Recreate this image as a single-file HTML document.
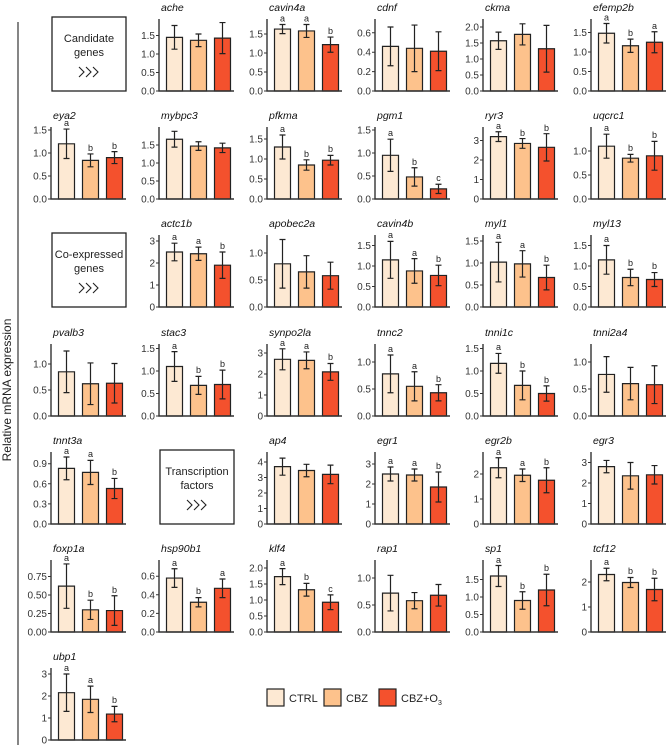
<!DOCTYPE html>
<html><head><meta charset="utf-8"><style>
body{margin:0;background:#fff}
svg{display:block;font-family:"Liberation Sans",sans-serif}
.n{font-style:italic;font-size:10.5px;fill:#111}
.tk text{font-size:10px;fill:#333;text-anchor:end}
.tk path{stroke:#333;stroke-width:1}
.ax{fill:none;stroke:#333;stroke-width:1.4}
.s rect,.s path{vector-effect:non-scaling-stroke;stroke:#222;stroke-width:1.2}
.s path{fill:none}
.s rect{width:16px}
.s rect.c1{x:6px}.s rect.c2{x:30px}.s rect.c3{x:54px}
.c1{fill:#fde9d3}.c2{fill:#fdc28c}.c3{fill:#f4512d}
.l text{font-size:9px;fill:#222;text-anchor:middle}
.bx{fill:#fff;stroke:#222;stroke-width:1.3}
.bt{font-size:11px;fill:#222;text-anchor:middle}
.cv{fill:none;stroke:#222;stroke-width:1.1}
</style></head><body>
<svg width="669" height="745" viewBox="0 0 669 745">
<line x1="18" y1="22" x2="18" y2="745" stroke="#444" stroke-width="1.3"/>
<text transform="translate(11,390) rotate(-90)" font-size="12" text-anchor="middle" fill="#222">Relative mRNA expression</text>

<!-- boxes -->
<rect class="bx" x="52" y="17" width="74" height="74"/>
<text class="bt" x="89" y="42">Candidate</text><text class="bt" x="89" y="56">genes</text>
<path class="cv" d="M79 67l5 5-5 5M86 67l5 5-5 5M93 67l5 5-5 5"/>
<rect class="bx" x="52" y="233" width="74" height="74"/>
<text class="bt" x="89" y="258">Co-expressed</text><text class="bt" x="89" y="272">genes</text>
<path class="cv" d="M79 283l5 5-5 5M86 283l5 5-5 5M93 283l5 5-5 5"/>
<rect class="bx" x="160" y="450" width="74" height="74"/>
<text class="bt" x="197" y="475">Transcription</text><text class="bt" x="197" y="489">factors</text>
<path class="cv" d="M187 500l5 5-5 5M194 500l5 5-5 5M201 500l5 5-5 5"/>

<!-- legend -->
<rect class="c1" x="267" y="689" width="17" height="17" stroke="#222" stroke-width="1.2"/>
<text x="289" y="702" font-size="11" fill="#222">CTRL</text>
<rect class="c2" x="324" y="689" width="17" height="17" stroke="#222" stroke-width="1.2"/>
<text x="346" y="702" font-size="11" fill="#222">CBZ</text>
<rect class="c3" x="379" y="689" width="17" height="17" stroke="#222" stroke-width="1.2"/>
<text x="401" y="702" font-size="11" fill="#222">CBZ+O<tspan font-size="7" dy="3">3</tspan></text>

<!-- ache -->
<g transform="translate(159,91)"><text class="n" x="2" y="-80">ache</text>
<g class="tk"><text x="-4" y="3.5">0.0</text><text x="-4" y="-15">0.5</text><text x="-4" y="-33.5">1.0</text><text x="-4" y="-52">1.5</text><path d="M-3 0H0M-3 -18.5H0M-3 -37H0M-3 -55.5H0"/></g>
<g class="s" transform="translate(1.5,0) scale(1,-37)"><rect class="c1" x="5" width="18" height="1.45"/><rect class="c2" x="29" width="18" height="1.37"/><rect class="c3" x="53" width="18" height="1.43"/>
<path d="M14 1.13V1.77M11 1.13H17M11 1.77H17M38 1.2V1.54M35 1.2H41M35 1.54H41M62 1.01V1.85M59 1.01H65M59 1.85H65"/></g>
<path class="ax" d="M0 -72V0H75"/></g>

<!-- cavin4a -->
<g transform="translate(267,91)"><text class="n" x="2" y="-80">cavin4a</text>
<g class="tk"><text x="-4" y="3.5">0.0</text><text x="-4" y="-15.5">0.5</text><text x="-4" y="-34.5">1.0</text><text x="-4" y="-53.5">1.5</text><path d="M-3 0H0M-3 -19H0M-3 -38H0M-3 -57H0"/></g>
<g class="s" transform="translate(1.5,0) scale(1,-38)"><rect class="c1" x="5" width="18" height="1.63"/><rect class="c2" x="29" width="18" height="1.58"/><rect class="c3" x="53" width="18" height="1.22"/>
<path d="M14 1.51V1.75M11 1.51H17M11 1.75H17M38 1.41V1.75M35 1.41H41M35 1.75H41M62 1.02V1.42M59 1.02H65M59 1.42H65"/></g>
<g class="l" transform="translate(1.5,0)"><text x="14" y="-69.5">a</text><text x="38" y="-69.5">a</text><text x="62" y="-57">b</text></g>
<path class="ax" d="M0 -72V0H75"/></g>

<!-- cdnf -->
<g transform="translate(375,91)"><text class="n" x="2" y="-80">cdnf</text>
<g class="tk"><text x="-4" y="3.5">0.0</text><text x="-4" y="-15.9">0.2</text><text x="-4" y="-35.3">0.4</text><text x="-4" y="-54.7">0.6</text><path d="M-3 0H0M-3 -19.4H0M-3 -38.8H0M-3 -58.2H0"/></g>
<g class="s" transform="translate(1.5,0) scale(1,-97)"><rect class="c1" x="5" width="18" height="0.46"/><rect class="c2" x="29" width="18" height="0.44"/><rect class="c3" x="53" width="18" height="0.41"/>
<path d="M14 0.26V0.66M11 0.26H17M11 0.66H17M38 0.2V0.68M35 0.2H41M35 0.68H41M62 0.21V0.61M59 0.21H65M59 0.61H65"/></g>
<path class="ax" d="M0 -72V0H75"/></g>

<!-- ckma -->
<g transform="translate(483,91)"><text class="n" x="2" y="-80">ckma</text>
<g class="tk"><text x="-4" y="3.5">0.0</text><text x="-4" y="-12.5">0.5</text><text x="-4" y="-28.5">1.0</text><text x="-4" y="-44.5">1.5</text><text x="-4" y="-60.5">2.0</text><path d="M-3 0H0M-3 -16H0M-3 -32H0M-3 -48H0M-3 -64H0"/></g>
<g class="s" transform="translate(1.5,0) scale(1,-32)"><rect class="c1" x="5" width="18" height="1.57"/><rect class="c2" x="29" width="18" height="1.77"/><rect class="c3" x="53" width="18" height="1.32"/>
<path d="M14 1.3V1.84M11 1.3H17M11 1.84H17M38 1.44V2.1M35 1.44H41M35 2.1H41M62 0.59V2.05M59 0.59H65M59 2.05H65"/></g>
<path class="ax" d="M0 -72V0H75"/></g>

<!-- efemp2b -->
<g transform="translate(591,91)"><text class="n" x="2" y="-80">efemp2b</text>
<g class="tk"><text x="-4" y="3.5">0.0</text><text x="-4" y="-16">0.5</text><text x="-4" y="-35.5">1.0</text><text x="-4" y="-55">1.5</text><path d="M-3 0H0M-3 -19.5H0M-3 -39H0M-3 -58.5H0"/></g>
<g class="s" transform="translate(1.5,0) scale(1,-39)"><rect class="c1" x="5" width="18" height="1.48"/><rect class="c2" x="29" width="18" height="1.16"/><rect class="c3" x="53" width="18" height="1.25"/>
<path d="M14 1.23V1.73M11 1.23H17M11 1.73H17M38 0.99V1.33M35 0.99H41M35 1.33H41M62 0.98V1.52M59 0.98H65M59 1.52H65"/></g>
<g class="l" transform="translate(1.5,0)"><text x="14" y="-70.5">a</text><text x="38" y="-55">b</text><text x="62" y="-62">a</text></g>
<path class="ax" d="M0 -72V0H75"/></g>

<!-- eya2 -->
<g transform="translate(51,199)"><text class="n" x="2" y="-80">eya2</text>
<g class="tk"><text x="-4" y="3.5">0.0</text><text x="-4" y="-19.5">0.5</text><text x="-4" y="-42.5">1.0</text><text x="-4" y="-65.5">1.5</text><path d="M-3 0H0M-3 -23H0M-3 -46H0M-3 -69H0"/></g>
<g class="s" transform="translate(1.5,0) scale(1,-46)"><rect class="c1" x="5" width="18" height="1.2"/><rect class="c2" x="29" width="18" height="0.84"/><rect class="c3" x="53" width="18" height="0.9"/>
<path d="M14 0.88V1.52M11 0.88H17M11 1.52H17M38 0.7V0.98M35 0.7H41M35 0.98H41M62 0.77V1.03M59 0.77H65M59 1.03H65"/></g>
<g class="l" transform="translate(1.5,0)"><text x="14" y="-73">a</text><text x="38" y="-48">b</text><text x="62" y="-50">b</text></g>
<path class="ax" d="M0 -72V0H75"/></g>

<!-- mybpc3 -->
<g transform="translate(159,199)"><text class="n" x="2" y="-80">mybpc3</text>
<g class="tk"><text x="-4" y="3.5">0.0</text><text x="-4" y="-14.5">0.5</text><text x="-4" y="-32.5">1.0</text><text x="-4" y="-50.5">1.5</text><path d="M-3 0H0M-3 -18H0M-3 -36H0M-3 -54H0"/></g>
<g class="s" transform="translate(1.5,0) scale(1,-36)"><rect class="c1" x="5" width="18" height="1.66"/><rect class="c2" x="29" width="18" height="1.47"/><rect class="c3" x="53" width="18" height="1.42"/>
<path d="M14 1.44V1.88M11 1.44H17M11 1.88H17M38 1.35V1.59M35 1.35H41M35 1.59H41M62 1.29V1.55M59 1.29H65M59 1.55H65"/></g>
<path class="ax" d="M0 -72V0H75"/></g>

<!-- pfkma -->
<g transform="translate(267,199)"><text class="n" x="2" y="-80">pfkma</text>
<g class="tk"><text x="-4" y="3.5">0.0</text><text x="-4" y="-16.5">0.5</text><text x="-4" y="-36.5">1.0</text><text x="-4" y="-56.5">1.5</text><path d="M-3 0H0M-3 -20H0M-3 -40H0M-3 -60H0"/></g>
<g class="s" transform="translate(1.5,0) scale(1,-40)"><rect class="c1" x="5" width="18" height="1.3"/><rect class="c2" x="29" width="18" height="0.85"/><rect class="c3" x="53" width="18" height="0.97"/>
<path d="M14 1.0V1.6M11 1.0H17M11 1.6H17M38 0.72V0.98M35 0.72H41M35 0.98H41M62 0.85V1.09M59 0.85H65M59 1.09H65"/></g>
<g class="l" transform="translate(1.5,0)"><text x="14" y="-67">a</text><text x="38" y="-42">b</text><text x="62" y="-47">b</text></g>
<path class="ax" d="M0 -72V0H75"/></g>

<!-- pgm1 -->
<g transform="translate(375,199)"><text class="n" x="2" y="-80">pgm1</text>
<g class="tk"><text x="-4" y="3.5">0.0</text><text x="-4" y="-19.5">0.5</text><text x="-4" y="-42.5">1.0</text><text x="-4" y="-65.5">1.5</text><path d="M-3 0H0M-3 -23H0M-3 -46H0M-3 -69H0"/></g>
<g class="s" transform="translate(1.5,0) scale(1,-46)"><rect class="c1" x="5" width="18" height="0.95"/><rect class="c2" x="29" width="18" height="0.48"/><rect class="c3" x="53" width="18" height="0.22"/>
<path d="M14 0.6V1.3M11 0.6H17M11 1.3H17M38 0.28V0.68M35 0.28H41M35 0.68H41M62 0.12V0.32M59 0.12H65M59 0.32H65"/></g>
<g class="l" transform="translate(1.5,0)"><text x="14" y="-63">a</text><text x="38" y="-34">b</text><text x="62" y="-18">c</text></g>
<path class="ax" d="M0 -72V0H75"/></g>

<!-- ryr3 -->
<g transform="translate(483,199)"><text class="n" x="2" y="-80">ryr3</text>
<g class="tk"><text x="-4" y="3.5">0</text><text x="-4" y="-16">1</text><text x="-4" y="-35.5">2</text><text x="-4" y="-55">3</text><path d="M-3 0H0M-3 -19.5H0M-3 -39H0M-3 -58.5H0"/></g>
<g class="s" transform="translate(1.5,0) scale(1,-19.5)"><rect class="c1" x="5" width="18" height="3.2"/><rect class="c2" x="29" width="18" height="2.85"/><rect class="c3" x="53" width="18" height="2.65"/>
<path d="M14 2.95V3.45M11 2.95H17M11 3.45H17M38 2.6V3.1M35 2.6H41M35 3.1H41M62 1.95V3.35M59 1.95H65M59 3.35H65"/></g>
<g class="l" transform="translate(1.5,0)"><text x="14" y="-70">a</text><text x="38" y="-63">b</text><text x="62" y="-68">b</text></g>
<path class="ax" d="M0 -72V0H75"/></g>

<!-- uqcrc1 -->
<g transform="translate(591,199)"><text class="n" x="2" y="-80">uqcrc1</text>
<g class="tk"><text x="-4" y="3.5">0.0</text><text x="-4" y="-20.5">0.5</text><text x="-4" y="-44.5">1.0</text><path d="M-3 0H0M-3 -24H0M-3 -48H0"/></g>
<g class="s" transform="translate(1.5,0) scale(1,-48)"><rect class="c1" x="5" width="18" height="1.1"/><rect class="c2" x="29" width="18" height="0.85"/><rect class="c3" x="53" width="18" height="0.9"/>
<path d="M14 0.85V1.35M11 0.85H17M11 1.35H17M38 0.77V0.93M35 0.77H41M35 0.93H41M62 0.6V1.2M59 0.6H65M59 1.2H65"/></g>
<g class="l" transform="translate(1.5,0)"><text x="14" y="-68">a</text><text x="38" y="-48">b</text><text x="62" y="-61">b</text></g>
<path class="ax" d="M0 -72V0H75"/></g>

<!-- actc1b -->
<g transform="translate(159,307)"><text class="n" x="2" y="-80">actc1b</text>
<g class="tk"><text x="-4" y="3.5">0</text><text x="-4" y="-18.5">1</text><text x="-4" y="-40.5">2</text><text x="-4" y="-62.5">3</text><path d="M-3 0H0M-3 -22H0M-3 -44H0M-3 -66H0"/></g>
<g class="s" transform="translate(1.5,0) scale(1,-22)"><rect class="c1" x="5" width="18" height="2.5"/><rect class="c2" x="29" width="18" height="2.42"/><rect class="c3" x="53" width="18" height="1.9"/>
<path d="M14 2.1V2.9M11 2.1H17M11 2.9H17M38 2.12V2.72M35 2.12H41M35 2.72H41M62 1.3V2.5M59 1.3H65M59 2.5H65"/></g>
<g class="l" transform="translate(1.5,0)"><text x="14" y="-67">a</text><text x="38" y="-63">a</text><text x="62" y="-58">b</text></g>
<path class="ax" d="M0 -72V0H75"/></g>

<!-- apobec2a -->
<g transform="translate(267,307)"><text class="n" x="2" y="-80">apobec2a</text>
<g class="tk"><text x="-4" y="3.5">0.0</text><text x="-4" y="-23.5">0.5</text><text x="-4" y="-50.5">1.0</text><path d="M-3 0H0M-3 -27H0M-3 -54H0"/></g>
<g class="s" transform="translate(1.5,0) scale(1,-54)"><rect class="c1" x="5" width="18" height="0.8"/><rect class="c2" x="29" width="18" height="0.65"/><rect class="c3" x="53" width="18" height="0.58"/>
<path d="M14 0.35V1.25M11 0.35H17M11 1.25H17M38 0.35V0.95M35 0.35H41M35 0.95H41M62 0.33V0.83M59 0.33H65M59 0.83H65"/></g>
<path class="ax" d="M0 -72V0H75"/></g>

<!-- cavin4b -->
<g transform="translate(375,307)"><text class="n" x="2" y="-80">cavin4b</text>
<g class="tk"><text x="-4" y="3.5">0.0</text><text x="-4" y="-17">0.5</text><text x="-4" y="-37.5">1.0</text><text x="-4" y="-58">1.5</text><path d="M-3 0H0M-3 -20.5H0M-3 -41H0M-3 -61.5H0"/></g>
<g class="s" transform="translate(1.5,0) scale(1,-41)"><rect class="c1" x="5" width="18" height="1.15"/><rect class="c2" x="29" width="18" height="0.88"/><rect class="c3" x="53" width="18" height="0.77"/>
<path d="M14 0.7V1.6M11 0.7H17M11 1.6H17M38 0.58V1.18M35 0.58H41M35 1.18H41M62 0.52V1.02M59 0.52H65M59 1.02H65"/></g>
<g class="l" transform="translate(1.5,0)"><text x="14" y="-69">a</text><text x="38" y="-51">a</text><text x="62" y="-45">b</text></g>
<path class="ax" d="M0 -72V0H75"/></g>

<!-- myl1 -->
<g transform="translate(483,307)"><text class="n" x="2" y="-80">myl1</text>
<g class="tk"><text x="-4" y="3.5">0.0</text><text x="-4" y="-18.5">0.5</text><text x="-4" y="-40.5">1.0</text><text x="-4" y="-62.5">1.5</text><path d="M-3 0H0M-3 -22H0M-3 -44H0M-3 -66H0"/></g>
<g class="s" transform="translate(1.5,0) scale(1,-44)"><rect class="c1" x="5" width="18" height="1.02"/><rect class="c2" x="29" width="18" height="0.98"/><rect class="c3" x="53" width="18" height="0.67"/>
<path d="M14 0.57V1.47M11 0.57H17M11 1.47H17M38 0.68V1.28M35 0.68H41M35 1.28H41M62 0.39V0.95M59 0.39H65M59 0.95H65"/></g>
<g class="l" transform="translate(1.5,0)"><text x="14" y="-68">a</text><text x="38" y="-59">a</text><text x="62" y="-45">b</text></g>
<path class="ax" d="M0 -72V0H75"/></g>

<!-- myl13 -->
<g transform="translate(591,307)"><text class="n" x="2" y="-80">myl13</text>
<g class="tk"><text x="-4" y="3.5">0.0</text><text x="-4" y="-17">0.5</text><text x="-4" y="-37.5">1.0</text><text x="-4" y="-58">1.5</text><path d="M-3 0H0M-3 -20.5H0M-3 -41H0M-3 -61.5H0"/></g>
<g class="s" transform="translate(1.5,0) scale(1,-41)"><rect class="c1" x="5" width="18" height="1.15"/><rect class="c2" x="29" width="18" height="0.72"/><rect class="c3" x="53" width="18" height="0.67"/>
<path d="M14 0.8V1.5M11 0.8H17M11 1.5H17M38 0.52V0.92M35 0.52H41M35 0.92H41M62 0.5V0.84M59 0.5H65M59 0.84H65"/></g>
<g class="l" transform="translate(1.5,0)"><text x="14" y="-65">a</text><text x="38" y="-41">b</text><text x="62" y="-38">b</text></g>
<path class="ax" d="M0 -72V0H75"/></g>

<!-- pvalb3 -->
<g transform="translate(51,416)"><text class="n" x="2" y="-80">pvalb3</text>
<g class="tk"><text x="-4" y="3.5">0.0</text><text x="-4" y="-22.5">0.5</text><text x="-4" y="-48.5">1.0</text><path d="M-3 0H0M-3 -26H0M-3 -52H0"/></g>
<g class="s" transform="translate(1.5,0) scale(1,-52)"><rect class="c1" x="5" width="18" height="0.85"/><rect class="c2" x="29" width="18" height="0.62"/><rect class="c3" x="53" width="18" height="0.63"/>
<path d="M14 0.45V1.25M11 0.45H17M11 1.25H17M38 0.22V1.02M35 0.22H41M35 1.02H41M62 0.25V1.01M59 0.25H65M59 1.01H65"/></g>
<path class="ax" d="M0 -72V0H75"/></g>

<!-- stac3 -->
<g transform="translate(159,416)"><text class="n" x="2" y="-80">stac3</text>
<g class="tk"><text x="-4" y="3.5">0.0</text><text x="-4" y="-19">0.5</text><text x="-4" y="-41.5">1.0</text><text x="-4" y="-64">1.5</text><path d="M-3 0H0M-3 -22.5H0M-3 -45H0M-3 -67.5H0"/></g>
<g class="s" transform="translate(1.5,0) scale(1,-45)"><rect class="c1" x="5" width="18" height="1.1"/><rect class="c2" x="29" width="18" height="0.68"/><rect class="c3" x="53" width="18" height="0.7"/>
<path d="M14 0.77V1.43M11 0.77H17M11 1.43H17M38 0.48V0.88M35 0.48H41M35 0.88H41M62 0.38V1.02M59 0.38H65M59 1.02H65"/></g>
<g class="l" transform="translate(1.5,0)"><text x="14" y="-67">a</text><text x="38" y="-43">b</text><text x="62" y="-49">b</text></g>
<path class="ax" d="M0 -72V0H75"/></g>

<!-- synpo2la -->
<g transform="translate(267,416)"><text class="n" x="2" y="-80">synpo2la</text>
<g class="tk"><text x="-4" y="3.5">0</text><text x="-4" y="-17.5">1</text><text x="-4" y="-38.5">2</text><text x="-4" y="-59.5">3</text><path d="M-3 0H0M-3 -21H0M-3 -42H0M-3 -63H0"/></g>
<g class="s" transform="translate(1.5,0) scale(1,-21)"><rect class="c1" x="5" width="18" height="2.7"/><rect class="c2" x="29" width="18" height="2.65"/><rect class="c3" x="53" width="18" height="2.1"/>
<path d="M14 2.2V3.2M11 2.2H17M11 3.2H17M38 2.25V3.05M35 2.25H41M35 3.05H41M62 1.7V2.5M59 1.7H65M59 2.5H65"/></g>
<g class="l" transform="translate(1.5,0)"><text x="14" y="-70">a</text><text x="38" y="-67">a</text><text x="62" y="-56">b</text></g>
<path class="ax" d="M0 -72V0H75"/></g>

<!-- tnnc2 -->
<g transform="translate(375,416)"><text class="n" x="2" y="-80">tnnc2</text>
<g class="tk"><text x="-4" y="3.5">0.0</text><text x="-4" y="-23.5">0.5</text><text x="-4" y="-50.5">1.0</text><path d="M-3 0H0M-3 -27H0M-3 -54H0"/></g>
<g class="s" transform="translate(1.5,0) scale(1,-54)"><rect class="c1" x="5" width="18" height="0.78"/><rect class="c2" x="29" width="18" height="0.55"/><rect class="c3" x="53" width="18" height="0.43"/>
<path d="M14 0.43V1.13M11 0.43H17M11 1.13H17M38 0.28V0.82M35 0.28H41M35 0.82H41M62 0.28V0.58M59 0.28H65M59 0.58H65"/></g>
<g class="l" transform="translate(1.5,0)"><text x="14" y="-64">a</text><text x="38" y="-47">a</text><text x="62" y="-34">b</text></g>
<path class="ax" d="M0 -72V0H75"/></g>

<!-- tnni1c -->
<g transform="translate(483,416)"><text class="n" x="2" y="-80">tnni1c</text>
<g class="tk"><text x="-4" y="3.5">0.0</text><text x="-4" y="-19">0.5</text><text x="-4" y="-41.5">1.0</text><text x="-4" y="-64">1.5</text><path d="M-3 0H0M-3 -22.5H0M-3 -45H0M-3 -67.5H0"/></g>
<g class="s" transform="translate(1.5,0) scale(1,-45)"><rect class="c1" x="5" width="18" height="1.17"/><rect class="c2" x="29" width="18" height="0.68"/><rect class="c3" x="53" width="18" height="0.5"/>
<path d="M14 0.95V1.39M11 0.95H17M11 1.39H17M38 0.36V1.0M35 0.36H41M35 1.0H41M62 0.33V0.67M59 0.33H65M59 0.67H65"/></g>
<g class="l" transform="translate(1.5,0)"><text x="14" y="-66">a</text><text x="38" y="-48">b</text><text x="62" y="-33">b</text></g>
<path class="ax" d="M0 -72V0H75"/></g>

<!-- tnni2a4 -->
<g transform="translate(591,416)"><text class="n" x="2" y="-80">tnni2a4</text>
<g class="tk"><text x="-4" y="3.5">0.0</text><text x="-4" y="-23.5">0.5</text><text x="-4" y="-50.5">1.0</text><path d="M-3 0H0M-3 -27H0M-3 -54H0"/></g>
<g class="s" transform="translate(1.5,0) scale(1,-54)"><rect class="c1" x="5" width="18" height="0.77"/><rect class="c2" x="29" width="18" height="0.6"/><rect class="c3" x="53" width="18" height="0.58"/>
<path d="M14 0.44V1.1M11 0.44H17M11 1.1H17M38 0.3V0.9M35 0.3H41M35 0.9H41M62 0.23V0.93M59 0.23H65M59 0.93H65"/></g>
<path class="ax" d="M0 -72V0H75"/></g>

<!-- tnnt3a -->
<g transform="translate(51,524)"><text class="n" x="2" y="-80">tnnt3a</text>
<g class="tk"><text x="-4" y="3.5">0.0</text><text x="-4" y="-16.6">0.3</text><text x="-4" y="-36.7">0.6</text><text x="-4" y="-56.8">0.9</text><path d="M-3 0H0M-3 -20.1H0M-3 -40.2H0M-3 -60.3H0"/></g>
<g class="s" transform="translate(1.5,0) scale(1,-67)"><rect class="c1" x="5" width="18" height="0.83"/><rect class="c2" x="29" width="18" height="0.77"/><rect class="c3" x="53" width="18" height="0.53"/>
<path d="M14 0.66V1.0M11 0.66H17M11 1.0H17M38 0.59V0.95M35 0.59H41M35 0.95H41M62 0.38V0.68M59 0.38H65M59 0.68H65"/></g>
<g class="l" transform="translate(1.5,0)"><text x="14" y="-70">a</text><text x="38" y="-67">a</text><text x="62" y="-49">b</text></g>
<path class="ax" d="M0 -72V0H75"/></g>

<!-- ap4 -->
<g transform="translate(267,524)"><text class="n" x="2" y="-80">ap4</text>
<g class="tk"><text x="-4" y="3.5">0</text><text x="-4" y="-12">1</text><text x="-4" y="-27.5">2</text><text x="-4" y="-43">3</text><text x="-4" y="-58.5">4</text><path d="M-3 0H0M-3 -15.5H0M-3 -31H0M-3 -46.5H0M-3 -62H0"/></g>
<g class="s" transform="translate(1.5,0) scale(1,-15.5)"><rect class="c1" x="5" width="18" height="3.7"/><rect class="c2" x="29" width="18" height="3.45"/><rect class="c3" x="53" width="18" height="3.2"/>
<path d="M14 3.15V4.25M11 3.15H17M11 4.25H17M38 3.05V3.85M35 3.05H41M35 3.85H41M62 2.6V3.8M59 2.6H65M59 3.8H65"/></g>
<path class="ax" d="M0 -72V0H75"/></g>

<!-- egr1 -->
<g transform="translate(375,524)"><text class="n" x="2" y="-80">egr1</text>
<g class="tk"><text x="-4" y="3.5">0</text><text x="-4" y="-16.5">1</text><text x="-4" y="-36.5">2</text><text x="-4" y="-56.5">3</text><path d="M-3 0H0M-3 -20H0M-3 -40H0M-3 -60H0"/></g>
<g class="s" transform="translate(1.5,0) scale(1,-20)"><rect class="c1" x="5" width="18" height="2.5"/><rect class="c2" x="29" width="18" height="2.45"/><rect class="c3" x="53" width="18" height="1.85"/>
<path d="M14 2.15V2.85M11 2.15H17M11 2.85H17M38 2.15V2.75M35 2.15H41M35 2.75H41M62 1.1V2.6M59 1.1H65M59 2.6H65"/></g>
<g class="l" transform="translate(1.5,0)"><text x="14" y="-60">a</text><text x="38" y="-58">a</text><text x="62" y="-55">b</text></g>
<path class="ax" d="M0 -72V0H75"/></g>

<!-- egr2b -->
<g transform="translate(483,524)"><text class="n" x="2" y="-80">egr2b</text>
<g class="tk"><text x="-4" y="3.5">0</text><text x="-4" y="-21.5">1</text><text x="-4" y="-46.5">2</text><path d="M-3 0H0M-3 -25H0M-3 -50H0"/></g>
<g class="s" transform="translate(1.5,0) scale(1,-25)"><rect class="c1" x="5" width="18" height="2.25"/><rect class="c2" x="29" width="18" height="1.95"/><rect class="c3" x="53" width="18" height="1.75"/>
<path d="M14 1.85V2.65M11 1.85H17M11 2.65H17M38 1.7V2.2M35 1.7H41M35 2.2H41M62 1.25V2.25M59 1.25H65M59 2.25H65"/></g>
<g class="l" transform="translate(1.5,0)"><text x="14" y="-69">a</text><text x="38" y="-58">a</text><text x="62" y="-59">b</text></g>
<path class="ax" d="M0 -72V0H75"/></g>

<!-- egr3 -->
<g transform="translate(591,524)"><text class="n" x="2" y="-80">egr3</text>
<g class="tk"><text x="-4" y="3.5">0</text><text x="-4" y="-17">1</text><text x="-4" y="-37.5">2</text><text x="-4" y="-58">3</text><path d="M-3 0H0M-3 -20.5H0M-3 -41H0M-3 -61.5H0"/></g>
<g class="s" transform="translate(1.5,0) scale(1,-20.5)"><rect class="c1" x="5" width="18" height="2.8"/><rect class="c2" x="29" width="18" height="2.35"/><rect class="c3" x="53" width="18" height="2.4"/>
<path d="M14 2.5V3.1M11 2.5H17M11 3.1H17M38 1.7V3.0M35 1.7H41M35 3.0H41M62 1.95V2.85M59 1.95H65M59 2.85H65"/></g>
<path class="ax" d="M0 -72V0H75"/></g>

<!-- foxp1a -->
<g transform="translate(51,632)"><text class="n" x="2" y="-80">foxp1a</text>
<g class="tk"><text x="-4" y="3.5">0.00</text><text x="-4" y="-15">0.25</text><text x="-4" y="-33.5">0.50</text><text x="-4" y="-52">0.75</text><path d="M-3 0H0M-3 -18.5H0M-3 -37H0M-3 -55.5H0"/></g>
<g class="s" transform="translate(1.5,0) scale(1,-74)"><rect class="c1" x="5" width="18" height="0.62"/><rect class="c2" x="29" width="18" height="0.3"/><rect class="c3" x="53" width="18" height="0.29"/>
<path d="M14 0.32V0.92M11 0.32H17M11 0.92H17M38 0.17V0.43M35 0.17H41M35 0.43H41M62 0.09V0.49M59 0.09H65M59 0.49H65"/></g>
<g class="l" transform="translate(1.5,0)"><text x="14" y="-71">a</text><text x="38" y="-35">b</text><text x="62" y="-39">b</text></g>
<path class="ax" d="M0 -72V0H75"/></g>

<!-- hsp90b1 -->
<g transform="translate(159,632)"><text class="n" x="2" y="-80">hsp90b1</text>
<g class="tk"><text x="-4" y="3.5">0.0</text><text x="-4" y="-15.1">0.2</text><text x="-4" y="-33.7">0.4</text><text x="-4" y="-52.3">0.6</text><path d="M-3 0H0M-3 -18.6H0M-3 -37.2H0M-3 -55.8H0"/></g>
<g class="s" transform="translate(1.5,0) scale(1,-93)"><rect class="c1" x="5" width="18" height="0.58"/><rect class="c2" x="29" width="18" height="0.32"/><rect class="c3" x="53" width="18" height="0.47"/>
<path d="M14 0.48V0.68M11 0.48H17M11 0.68H17M38 0.27V0.37M35 0.27H41M35 0.37H41M62 0.37V0.57M59 0.37H65M59 0.57H65"/></g>
<g class="l" transform="translate(1.5,0)"><text x="14" y="-66">a</text><text x="38" y="-38">b</text><text x="62" y="-56">a</text></g>
<path class="ax" d="M0 -72V0H75"/></g>

<!-- klf4 -->
<g transform="translate(267,632)"><text class="n" x="2" y="-80">klf4</text>
<g class="tk"><text x="-4" y="3.5">0.0</text><text x="-4" y="-12.5">0.5</text><text x="-4" y="-28.5">1.0</text><text x="-4" y="-44.5">1.5</text><text x="-4" y="-60.5">2.0</text><path d="M-3 0H0M-3 -16H0M-3 -32H0M-3 -48H0M-3 -64H0"/></g>
<g class="s" transform="translate(1.5,0) scale(1,-32)"><rect class="c1" x="5" width="18" height="1.73"/><rect class="c2" x="29" width="18" height="1.32"/><rect class="c3" x="53" width="18" height="0.93"/>
<path d="M14 1.48V1.98M11 1.48H17M11 1.98H17M38 1.12V1.52M35 1.12H41M35 1.52H41M62 0.7V1.16M59 0.7H65M59 1.16H65"/></g>
<g class="l" transform="translate(1.5,0)"><text x="14" y="-66">a</text><text x="38" y="-52">b</text><text x="62" y="-40">c</text></g>
<path class="ax" d="M0 -72V0H75"/></g>

<!-- rap1 -->
<g transform="translate(375,632)"><text class="n" x="2" y="-80">rap1</text>
<g class="tk"><text x="-4" y="3.5">0.0</text><text x="-4" y="-23.5">0.5</text><text x="-4" y="-50.5">1.0</text><path d="M-3 0H0M-3 -27H0M-3 -54H0"/></g>
<g class="s" transform="translate(1.5,0) scale(1,-54)"><rect class="c1" x="5" width="18" height="0.72"/><rect class="c2" x="29" width="18" height="0.58"/><rect class="c3" x="53" width="18" height="0.68"/>
<path d="M14 0.39V1.05M11 0.39H17M11 1.05H17M38 0.43V0.73M35 0.43H41M35 0.73H41M62 0.48V0.88M59 0.48H65M59 0.88H65"/></g>
<path class="ax" d="M0 -72V0H75"/></g>

<!-- sp1 -->
<g transform="translate(483,632)"><text class="n" x="2" y="-80">sp1</text>
<g class="tk"><text x="-4" y="3.5">0.0</text><text x="-4" y="-14">0.5</text><text x="-4" y="-31.5">1.0</text><text x="-4" y="-49">1.5</text><path d="M-3 0H0M-3 -17.5H0M-3 -35H0M-3 -52.5H0"/></g>
<g class="s" transform="translate(1.5,0) scale(1,-35)"><rect class="c1" x="5" width="18" height="1.6"/><rect class="c2" x="29" width="18" height="0.9"/><rect class="c3" x="53" width="18" height="1.2"/>
<path d="M14 1.3V1.9M11 1.3H17M11 1.9H17M38 0.65V1.15M35 0.65H41M35 1.15H41M62 0.75V1.65M59 0.75H65M59 1.65H65"/></g>
<g class="l" transform="translate(1.5,0)"><text x="14" y="-69">a</text><text x="38" y="-43">b</text><text x="62" y="-61">b</text></g>
<path class="ax" d="M0 -72V0H75"/></g>

<!-- tcf12 -->
<g transform="translate(591,632)"><text class="n" x="2" y="-80">tcf12</text>
<g class="tk"><text x="-4" y="3.5">0</text><text x="-4" y="-21.5">1</text><text x="-4" y="-46.5">2</text><path d="M-3 0H0M-3 -25H0M-3 -50H0"/></g>
<g class="s" transform="translate(1.5,0) scale(1,-25)"><rect class="c1" x="5" width="18" height="2.3"/><rect class="c2" x="29" width="18" height="1.98"/><rect class="c3" x="53" width="18" height="1.7"/>
<path d="M14 2.05V2.55M11 2.05H17M11 2.55H17M38 1.78V2.18M35 1.78H41M35 2.18H41M62 1.25V2.15M59 1.25H65M59 2.15H65"/></g>
<g class="l" transform="translate(1.5,0)"><text x="14" y="-67">a</text><text x="38" y="-58">b</text><text x="62" y="-57">b</text></g>
<path class="ax" d="M0 -72V0H75"/></g>

<!-- ubp1 -->
<g transform="translate(51,740)"><text class="n" x="2" y="-80">ubp1</text>
<g class="tk"><text x="-4" y="3.5">0</text><text x="-4" y="-18.5">1</text><text x="-4" y="-40.5">2</text><text x="-4" y="-62.5">3</text><path d="M-3 0H0M-3 -22H0M-3 -44H0M-3 -66H0"/></g>
<g class="s" transform="translate(1.5,0) scale(1,-22)"><rect class="c1" x="5" width="18" height="2.15"/><rect class="c2" x="29" width="18" height="1.85"/><rect class="c3" x="53" width="18" height="1.18"/>
<path d="M14 1.3V3.0M11 1.3H17M11 3.0H17M38 1.25V2.45M35 1.25H41M35 2.45H41M62 0.83V1.53M59 0.83H65M59 1.53H65"/></g>
<g class="l" transform="translate(1.5,0)"><text x="14" y="-69">a</text><text x="38" y="-57">a</text><text x="62" y="-37">b</text></g>
<path class="ax" d="M0 -72V0H75"/></g>
</svg>
</body></html>
